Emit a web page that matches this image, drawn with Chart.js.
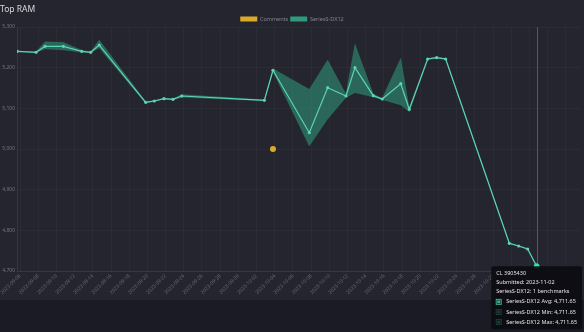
<!DOCTYPE html>
<html>
<head>
<meta charset="utf-8">
<script src="https://cdn.jsdelivr.net/npm/chart.js@4.4.1/dist/chart.umd.min.js"></script>
<style>
  html, body { margin: 0; padding: 0; background: #1b1b25; overflow: hidden; }
  #card { position: absolute; left: 0; top: 0; width: 584px; height: 300px; background: #25252f; }
  #wrap { position: absolute; left: 0; top: 0; width: 584px; height: 332px; }
</style>
</head>
<body>
<div id="card"></div>
<div id="wrap"><canvas id="chart"></canvas></div>
<script>
// days after 2023-09-06
const START = Date.UTC(2023, 8, 6);
const days = [-0.30, 1.76, 2.75, 4.76, 6.78, 7.77, 8.71, 13.81, 14.76, 15.82, 16.81, 17.77, 26.85, 27.80, 31.79,
  33.81, 35.82, 36.81, 38.82, 39.81, 41.84, 42.78, 44.80, 45.79, 46.78, 53.77, 54.80, 55.79, 56.78];
const avgRam = [5240.2, 5237.8, 5252.5, 5252.5, 5240.2, 5237.8, 5255.7, 5114.8, 5118.0, 5123.7, 5122.2, 5130.3, 5119.7, 5193.5, 5040.1,
  5150.7, 5130.3, 5199.9, 5131.1, 5123.0, 5160.6, 5097.6, 5221.3, 5224.5, 5221.3, 4768.1, 4761.5, 4754.1, 4711.65];
const minRam = [5239.5, 5237.0, 5245.9, 5243.4, 5238.0, 5237.0, 5248.4, 5112.0, 5117.0, 5122.5, 5121.0, 5127.0, 5118.5, 5190.0, 5007.4,
  5073.8, 5126.6, 5138.4, 5127.9, 5121.0, 5108.2, 5091.7, 5219.5, 5222.5, 5219.5, 4767.0, 4760.5, 4753.0, 4711.65];
const maxRam = [5241.0, 5239.0, 5263.9, 5262.4, 5243.0, 5239.0, 5268.0, 5117.0, 5119.5, 5125.0, 5123.5, 5134.0, 5121.0, 5197.5, 5146.8,
  5218.8, 5135.2, 5258.2, 5135.2, 5125.0, 5223.0, 5100.1, 5223.0, 5226.5, 5223.0, 4769.5, 4762.5, 4755.0, 4711.65];
const commentDays = [27.80];
const commentValues = [5000];
const lastCL = 3905430;
const lastBenchmarks = 1;

const FONT = 'Noto Sans';
const pts = (xs, ys) => xs.map((x, i) => ({ x, y: ys[i] }));
const fmtDay = d => new Date(START + Math.round(d) * 86400000).toISOString().slice(0, 10);

// legend reserves a fixed 10px under the row, trim it
const tightLegend = {
  id: 'tightLegend',
  afterInit(chart) {
    const lg = chart.legend;
    const fit = lg.fit;
    lg.fit = function () { fit.call(this); this.height -= 4.7; };
  }
};

const crosshair = {
  id: 'crosshair',
  beforeDatasetsDraw(chart) {
    const act = chart.tooltip.getActiveElements();
    if (!act.length) return;
    const x = act[0].element.x;
    const { top, bottom } = chart.chartArea;
    const ctx = chart.ctx;
    ctx.save();
    ctx.strokeStyle = 'rgba(80,92,175,0.85)';
    ctx.lineWidth = 1;
    ctx.beginPath();
    ctx.moveTo(Math.round(x) + 0.5, top);
    ctx.lineTo(Math.round(x) + 0.5, bottom);
    ctx.stroke();
    ctx.restore();
  }
};

const chart = new Chart(document.getElementById('chart'), {
  type: 'line',
  data: {
    datasets: [
      {
        label: 'Comments', data: pts(commentDays, commentValues), showLine: false,
        backgroundColor: '#dcaa2a', borderColor: '#dcaa2a', pointRadius: 3, pointBorderWidth: 0, pointHoverRadius: 3
      },
      {
        label: 'SeriesS-DX12', data: pts(days, avgRam), borderColor: '#5dd3b3', backgroundColor: '#2e9a7e',
        pointBackgroundColor: '#5dd3b3', pointBorderWidth: 0, pointRadius: 1.6, pointHoverRadius: 2.5,
        borderWidth: 1.2, tension: 0, fill: false
      },
      {
        label: 'SeriesS-DX12 Min', data: pts(days, minRam), borderColor: 'rgba(46,154,126,0.4)', borderWidth: 0.5,
        backgroundColor: '#1d3d35', pointRadius: 0, pointHoverRadius: 0, fill: false
      },
      {
        label: 'SeriesS-DX12 Max', data: pts(days, maxRam), borderColor: 'rgba(46,154,126,0.4)', borderWidth: 0.5,
        backgroundColor: '#1d3d35', pointRadius: 0, pointHoverRadius: 0,
        fill: { target: 2, above: 'rgba(46,150,122,0.58)', below: 'rgba(46,150,122,0.58)' }
      }
    ]
  },
  options: {
    responsive: true,
    maintainAspectRatio: false,
    animation: false,
    layout: { padding: { top: 0, bottom: 32, left: 0, right: 0 } },
    interaction: { mode: 'index', intersect: false },
    scales: {
      x: {
        type: 'linear', min: -0.33, max: 61.65,
        grid: { color: 'rgba(255,255,255,0.03)', tickLength: 0 },
        border: { color: 'rgba(255,255,255,0.06)' },
        ticks: {
          stepSize: 2, autoSkip: false, includeBounds: false, maxRotation: 45, minRotation: 45,
          color: '#6c6c78', font: { family: FONT, size: 5 }, padding: 2,
          callback: v => fmtDay(v)
        },
        afterFit: s => { s.height = 29; s.paddingLeft = 0; s.paddingRight = 0; }
      },
      y: {
        min: 4700, max: 5300,
        grid: { color: 'rgba(255,255,255,0.03)', tickLength: 0 },
        border: { color: 'rgba(255,255,255,0.08)' },
        ticks: {
          stepSize: 100, color: '#74747f', font: { family: FONT, size: 5 }, padding: 2,
          callback: v => v.toLocaleString('en-US')
        },
        afterFit: s => { s.width = 17; }
      }
    },
    plugins: {
      title: {
        display: true, text: 'Top RAM', align: 'start', color: '#d8d8dc',
        font: { family: FONT, size: 8.5, weight: 'normal' }, padding: { top: 4, bottom: 0 }
      },
      legend: {
        position: 'top',
        labels: {
          boxWidth: 17, boxHeight: 5, padding: 2, color: '#85858f', font: { family: FONT, size: 5.5 },
          generateLabels: c => Chart.defaults.plugins.legend.labels.generateLabels(c)
            .filter(l => l.datasetIndex < 2)
            .map(l => ({ ...l, lineWidth: 0, strokeStyle: 'transparent' }))
        }
      },
      tooltip: {
        xAlign: 'center', yAlign: 'top', caretSize: 0, caretPadding: 0,
        backgroundColor: 'rgba(12,12,18,0.94)', cornerRadius: 2, multiKeyBackground: 'rgba(0,0,0,0)',
        titleColor: '#e4e4e8', bodyColor: '#e4e4e8',
        titleFont: { family: FONT, size: 5.5, weight: 'normal' }, bodyFont: { family: FONT, size: 5.5 },
        titleSpacing: 2.5, titleMarginBottom: 3.5, bodySpacing: 3.5,
        padding: { x: 5, y: 4 }, boxWidth: 5, boxHeight: 5, boxPadding: 3,
        filter: item => item.datasetIndex > 0,
        callbacks: {
          title: items => ['CL ' + lastCL, 'Submitted: ' + fmtDay(items[0].parsed.x),
            'SeriesS-DX12: ' + lastBenchmarks + ' benchmarks'],
          label: item => {
            const name = ['', 'SeriesS-DX12 Avg', 'SeriesS-DX12 Min', 'SeriesS-DX12 Max'][item.datasetIndex];
            return name + ': ' + item.parsed.y.toLocaleString('en-US', { minimumFractionDigits: 2, maximumFractionDigits: 2 });
          },
          labelColor: item => {
            const c = item.datasetIndex === 1 ? '#3fae8e' : '#1d3d35';
            return { borderColor: c, backgroundColor: c, borderWidth: 0 };
          }
        }
      }
    }
  },
  plugins: [tightLegend, crosshair]
});

const last = days.length - 1;
const active = [1, 2, 3].map(d => ({ datasetIndex: d, index: last }));
const el = chart.getDatasetMeta(1).data[last];
chart.setActiveElements(active);
chart.tooltip.setActiveElements(active, { x: el.x, y: el.y });
chart.update();
</script>
</body>
</html>
